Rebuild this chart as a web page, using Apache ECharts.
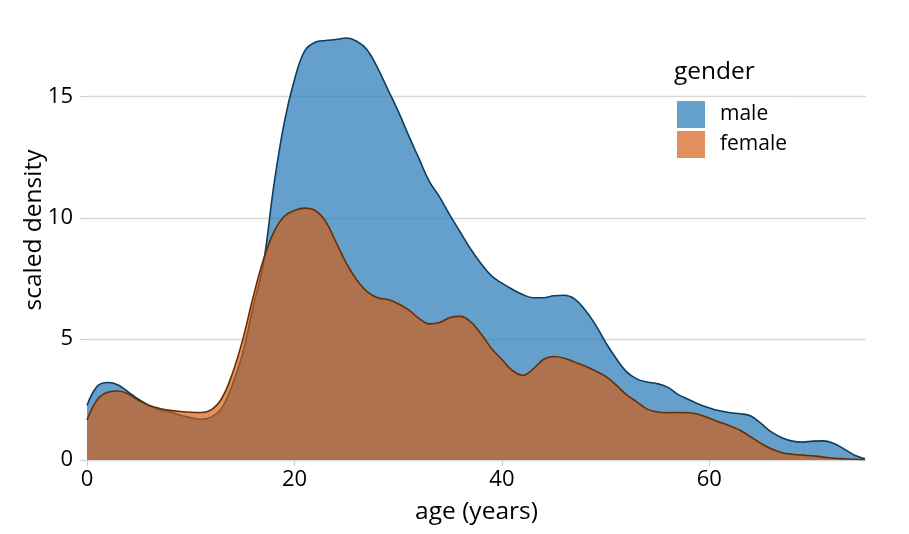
<!DOCTYPE html>
<html>
<head>
<meta charset="utf-8">
<script src="https://cdn.jsdelivr.net/npm/echarts@6/dist/echarts.min.js"></script>
<style>
html,body{margin:0;padding:0;background:#fff;}
#chart{width:909px;height:534px;}
</style>
</head>
<body>
<div id="chart"></div>
<script>
const ages = [0,1,2,3,4,5,6,7,8,9,10,11,12,13,14,15,16,17,18,19,20,21,22,23,24,25,26,27,28,29,30,31,32,33,34,35,36,37,38,39,40,41,42,43,44,45,46,47,48,49,50,51,52,53,54,55,56,57,58,59,60,61,62,63,64,65,66,67,68,69,70,71,72,73,74,75];
const maleDensity = [2.25,3.05,3.2,3.1,2.8,2.5,2.25,2.08,1.98,1.85,1.75,1.68,1.78,2.15,3.1,4.4,6.3,8.1,11.3,13.9,15.7,16.9,17.25,17.32,17.36,17.42,17.29,16.94,16.2,15.3,14.4,13.4,12.45,11.5,10.85,10.1,9.4,8.7,8.1,7.6,7.3,7.05,6.83,6.7,6.7,6.78,6.8,6.65,6.2,5.6,4.85,4.2,3.65,3.35,3.22,3.15,3.0,2.7,2.5,2.3,2.15,2.03,1.95,1.91,1.82,1.5,1.15,0.92,0.78,0.74,0.78,0.79,0.68,0.45,0.2,0.05];
const femaleDensity = [1.65,2.5,2.8,2.85,2.72,2.45,2.25,2.13,2.05,2.0,1.97,1.96,2.08,2.55,3.55,4.95,6.7,8.26,9.4,10.05,10.3,10.4,10.3,9.85,9.0,8.13,7.44,6.95,6.7,6.63,6.45,6.2,5.85,5.62,5.68,5.88,5.93,5.7,5.2,4.6,4.15,3.7,3.5,3.75,4.15,4.27,4.2,4.05,3.88,3.68,3.45,3.1,2.7,2.4,2.1,1.98,1.95,1.96,1.95,1.88,1.72,1.56,1.4,1.22,0.95,0.68,0.45,0.3,0.24,0.2,0.17,0.12,0.07,0.05,0.03,0.02];
const xTicks = [0,20,40,60];
const yTicks = [0,5,10,15];
const seriesNames = ['male','female'];
const legendTitle = 'gender';
const xTitle = 'age (years)';
const yTitle = 'scaled density';

const FONT = '"Open Sans", "Noto Sans", sans-serif';
const maleData = ages.map((a,i)=>[a, maleDensity[i]]);
const femaleData = ages.map((a,i)=>[a, femaleDensity[i]]);

const chart = echarts.init(document.getElementById('chart'), null, {renderer:'canvas'});
chart.setOption({
  backgroundColor:'#ffffff',
  animation:false,
  textStyle:{fontFamily:FONT},
  grid:{left:87, right:43, top:24, bottom:74, containLabel:false, outerBoundsMode:'none'},
  title:{
    text: legendTitle, left:674, top:60,
    textStyle:{fontFamily:FONT, fontSize:24.5, fontWeight:'normal', color:'#000'},
    padding:0
  },
  legend:{
    orient:'vertical', left:675, top:97,
    padding:[4,2,4,2],
    backgroundColor:'#ffffff',
    itemWidth:28, itemHeight:27, itemGap:3,
    icon:'rect',
    textStyle:{fontFamily:FONT, fontSize:21, color:'#000', padding:[0,0,0,10]},
    data:[
      {name:seriesNames[0], itemStyle:{color:'#66a1cc', borderWidth:0}},
      {name:seriesNames[1], itemStyle:{color:'#e0915f', borderWidth:0}}
    ]
  },
  xAxis:{
    type:'value', min:0, max:75.1,
    name:xTitle, nameLocation:'middle', nameGap:40,
    nameTextStyle:{fontFamily:FONT, fontSize:24.5, color:'#000'},
    axisLine:{show:false},
    axisTick:{show:true, customValues:xTicks, length:6, lineStyle:{color:'#d0d0d0', width:1.2}},
    axisLabel:{customValues:xTicks, margin:9, fontFamily:FONT, fontSize:22, color:'#000'},
    splitLine:{show:false}
  },
  yAxis:{
    type:'value', min:0, max:18,
    name:yTitle, nameLocation:'middle', nameGap:40, nameRotate:90,
    nameMoveOverlap:false,
    nameTextStyle:{fontFamily:FONT, fontSize:24.5, color:'#000', padding:[0,0,0,24]},
    axisLine:{show:false},
    axisTick:{show:true, customValues:yTicks, length:7, lineStyle:{color:'#d0d0d0', width:1.2}},
    axisLabel:{customValues:yTicks, margin:14, fontFamily:FONT, fontSize:22, color:'#000'},
    splitLine:{show:true, lineStyle:{color:'#d9d9d9', width:1.3}}
  },
  series:[
    {
      name:seriesNames[0], type:'line', data:maleData, smooth:0.4,
      showSymbol:false, symbol:'none',
      lineStyle:{color:'#0d3e5e', width:1.6},
      itemStyle:{color:'#66a1cc'},
      areaStyle:{color:'rgba(34,120,181,0.7)', opacity:1, origin:'start'},
      z:2
    },
    {
      name:seriesNames[1], type:'line', data:femaleData, smooth:0.4,
      showSymbol:false, symbol:'none',
      lineStyle:{color:'#6a2e00', width:1.6},
      itemStyle:{color:'#e0915f'},
      areaStyle:{color:'rgba(209,93,20,0.68)', opacity:1, origin:'start'},
      z:3
    }
  ]
});
</script>
</body>
</html>
